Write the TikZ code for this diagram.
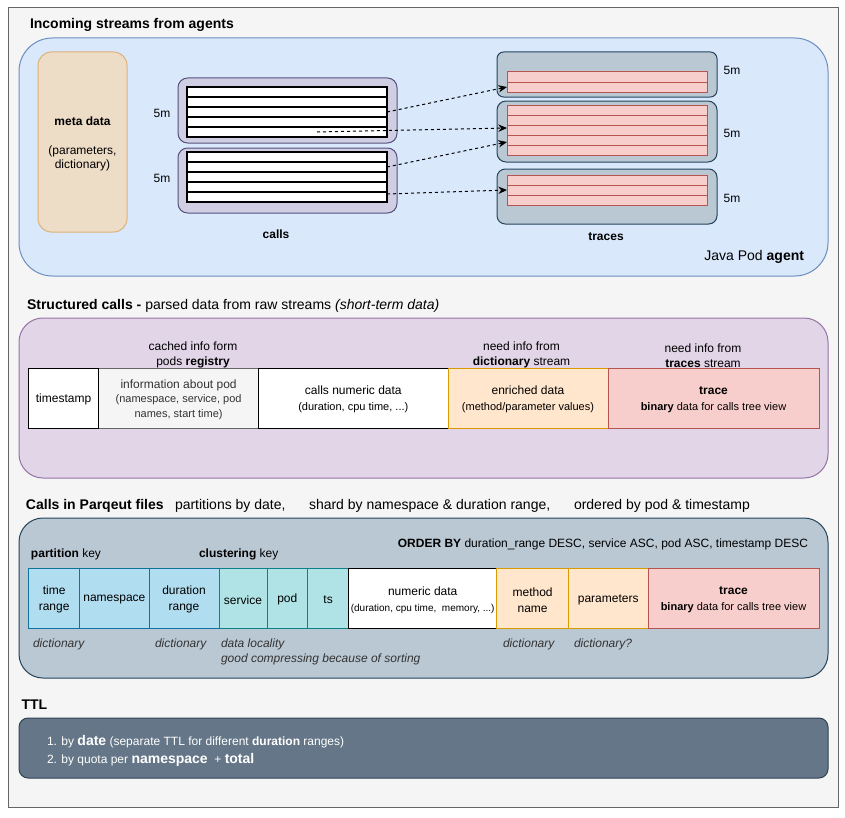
\documentclass[tikz,border=0pt]{standalone}
\usepackage{fontspec}
\setmainfont{Liberation Sans}
\usetikzlibrary{arrows.meta}
\newcommand\fz[1]{\fontsize{\fpeval{#1*0.75}pt}{\fpeval{#1*0.9}pt}\selectfont}
\newcommand\rbox[7]{\node[#2, anchor=north west, minimum width={(#5-(#3))*0.75pt}, minimum height={(#6-(#4))*0.75pt}] (#1) at (#3,#4) {#7};}
% cell: name, box style, text style, x1,y1,x2,y2, text
\newcommand\cbox[8]{\rbox{#1}{#2}{#4}{#5}{#6}{#7}{}\node[align=center, yshift=-1.3pt, #3] (#1t) at (#1.center) {#8};}
\definecolor{outerF}{HTML}{F5F5F5}
\definecolor{outerS}{HTML}{666666}
\definecolor{blueF}{HTML}{DAE8FC}
\definecolor{blueS}{HTML}{6C8EBF}
\definecolor{metaF}{HTML}{EDDCC6}
\definecolor{metaS}{HTML}{DDB27A}
\definecolor{purF}{HTML}{D0CEE2}
\definecolor{purS}{HTML}{56517E}
\definecolor{grF}{HTML}{BAC8D3}
\definecolor{grS}{HTML}{23445D}
\definecolor{pinkF}{HTML}{F8CECC}
\definecolor{pinkS}{HTML}{B85450}
\definecolor{lilF}{HTML}{E1D5E7}
\definecolor{lilS}{HTML}{9673A6}
\definecolor{orF}{HTML}{FFE6CC}
\definecolor{orS}{HTML}{D79B00}
\definecolor{txtG}{HTML}{333333}
\definecolor{skyF}{HTML}{B1DDF0}
\definecolor{skyS}{HTML}{10739E}
\definecolor{tealF}{HTML}{B0E3E6}
\definecolor{tealS}{HTML}{0E8088}
\definecolor{ttlF}{HTML}{647687}
\definecolor{ttlS}{HTML}{314354}
\begin{document}
\begin{tikzpicture}[x=0.75pt,y=-0.75pt,
  every node/.style={inner sep=0pt, outer sep=0pt},
  shp/.style={line width=0.75pt},
  tdown/.style={yshift=-1.3pt},
  lbl/.style={font=\fz{12}, tdown},
  hdr/.style={font=\fz{14}, anchor=west, tdown},
  ct/.style={font={\fontsize{9pt}{12pt}\selectfont}},
  cts/.style={font={\fontsize{8.25pt}{12pt}\selectfont}},
  crow/.style={line width=0.9pt, draw=black, fill=white, minimum width=150pt, minimum height=7.5pt, anchor=north west},
  trow/.style={line width=0.75pt, draw=pinkS, fill=pinkF, minimum width=150pt, minimum height=7.5pt, anchor=north west},
  flow/.style={line width=0.75pt, dash pattern=on 2.25pt off 2.25pt, -{Stealth[length=6.5pt,width=5.5pt]}},
  ann/.style={font=\fz{12}\itshape, anchor=west, text=txtG, tdown}
]
\useasboundingbox (0,0) rectangle (845,817);
\fill[white] (0,0) rectangle (845,817);

% outer frame
\rbox{outer}{shp, draw=outerS, fill=outerF}{8}{8}{838}{807}{}

% ---------- section 1 ----------
\node[hdr] (t1) at (30,23) {\textbf{Incoming streams from agents}};
\rbox{agentbox}{shp, draw=blueS, fill=blueF, rounded corners=25pt}{19}{38}{828}{276}{}
\cbox{meta}{shp, draw=metaS, fill=metaF, rounded corners=10pt}{font={\fontsize{9pt}{10.8pt}\selectfont}}{38}{52}{127}{232}{\textbf{meta data}\\[10.8pt](parameters,\\dictionary)}

\rbox{cgu}{shp, draw=purS, fill=purF, rounded corners=7.2pt}{178}{78}{397}{143}{}
\rbox{cgl}{shp, draw=purS, fill=purF, rounded corners=7.2pt}{178}{148}{397}{213}{}
\foreach \i in {1,...,5} {
  \node[crow] (cu\i) at (187,{87+10*(\i-1)}) {};
  \node[crow] (cl\i) at (187,{152+10*(\i-1)}) {};
}

\rbox{tb1}{shp, draw=grS, fill=grF, rounded corners=5pt}{497}{52}{717}{97}{}
\rbox{tb2}{shp, draw=grS, fill=grF, rounded corners=6.8pt}{497}{101}{717}{162}{}
\rbox{tb3}{shp, draw=grS, fill=grF, rounded corners=6.2pt}{497}{169}{717}{224}{}
\foreach \i in {1,2} { \node[trow] (ta\i) at (507,{72+10*(\i-1)}) {}; }
\foreach \i in {1,...,5} { \node[trow] (tm\i) at (507,{105+10*(\i-1)}) {}; }
\foreach \i in {1,...,3} { \node[trow] (tc\i) at (507,{175+10*(\i-1)}) {}; }

\coordinate (a2s) at (317,132);
\draw[flow] (cu3.east) -- (ta2.west);
\draw[flow] (a2s) -- ([yshift=1.5pt]tm3.west);
\draw[flow] (cl2.east) -- ([yshift=-1.5pt]tm4.west);
\draw[flow] ([yshift=2.25pt]cl5.east) -- (tc2.west);

\node[lbl] (m1) at (162,112) {5m};
\node[lbl] (m2) at (162,177) {5m};
\node[lbl] (m3) at (732,69) {5m};
\node[lbl] (m4) at (732,132) {5m};
\node[lbl] (m5) at (732,197) {5m};
\node[lbl] (callsl) at (276,232) {\textbf{calls}};
\node[lbl] (tracesl) at (606,235) {\textbf{traces}};
\node[font=\fz{14}, anchor=east, tdown] (jpa) at (804,255) {Java Pod \textbf{agent}};

% ---------- section 2 ----------
\node[hdr] (t2) at (27,304) {\textbf{Structured calls -} parsed data from raw streams \textit{(short-term data)}};
\rbox{structbox}{shp, draw=lilS, fill=lilF, rounded corners=18pt}{19}{318}{828}{478}{}
\cbox{sinfo}{shp, draw=outerS, fill=outerF}{text=txtG, font={\fontsize{8.25pt}{10.9pt}\selectfont}}{98.6}{368}{258.6}{428}{{\fz{12}information about pod}\\(namespace, service, pod\\names, start time)}
\cbox{sts}{shp, draw=black, fill=white}{ct}{28.5}{368}{98.6}{428}{timestamp}
\cbox{snum}{shp, draw=black, fill=white}{cts}{258.6}{368}{448}{428}{{\fz{12}calls numeric data}\\(duration, cpu time, ...)}
\cbox{senr}{shp, draw=orS, fill=orF}{cts}{448}{368}{608}{428}{{\fz{12}enriched data}\\(method/parameter values)}
\cbox{strc}{shp, draw=pinkS, fill=pinkF}{cts}{608}{368}{819}{428}{{\fz{12}\textbf{trace}}\\\textbf{binary} data for calls tree view}

\node[align=center, font={\fontsize{9pt}{11.25pt}\selectfont}, tdown] (h1) at (193,353.5) {cached info form\\pods \textbf{registry}};
\node[align=center, font={\fontsize{9pt}{11.25pt}\selectfont}, tdown] (h2) at (521.5,353.5) {need info from\\\textbf{dictionary} stream};
\node[align=center, font={\fontsize{9pt}{11.25pt}\selectfont}, tdown] (h3) at (703,353.5) {need info from\\\textbf{traces} stream};

% ---------- section 3 ----------
\node[hdr] (t3a) at (26,504) {\textbf{Calls in Parqeut files}};
\node[hdr] (t3b) at (175,504) {partitions by date,};
\node[hdr] (t3c) at (309,504) {shard by namespace \& duration range,};
\node[hdr] (t3d) at (574,504) {ordered by pod \& timestamp};
\rbox{parqbox}{shp, draw=grS, fill=grF, rounded corners=18pt}{19}{518}{828}{678}{}
\node[lbl, anchor=east] (ob) at (808,543) {\textbf{ORDER BY} duration\_range DESC, service ASC, pod ASC, timestamp DESC};
\node[lbl, anchor=west] (pk) at (31,553) {\textbf{partition} key};
\node[lbl, anchor=west] (ck) at (199,553) {\textbf{clustering} key};

\cbox{ptr}{shp, draw=skyS, fill=skyF}{ct}{28.5}{568}{79.7}{628}{time\\range}
\cbox{pns}{shp, draw=skyS, fill=skyF}{ct}{79.7}{568}{149}{628}{namespace}
\cbox{pdr}{shp, draw=skyS, fill=skyF}{ct}{149}{568}{219}{628}{duration\\range}
\cbox{psv}{shp, draw=tealS, fill=tealF}{ct}{219}{568}{267}{628}{service}
\cbox{ppd}{shp, draw=tealS, fill=tealF}{ct}{267}{568}{307.6}{628}{pod}
\cbox{pts}{shp, draw=tealS, fill=tealF}{ct}{307.6}{568}{348.6}{628}{ts}
\cbox{pnum}{shp, draw=black, fill=white}{ct}{348.6}{568}{496.8}{628}{numeric data\\{\fz{10}(duration, cpu time,\ \ memory, ...)}}
\cbox{pmn}{shp, draw=orS, fill=orF}{ct}{496.8}{568}{568.4}{628}{method\\name}
\cbox{ppar}{shp, draw=orS, fill=orF}{ct}{568.4}{568}{648}{628}{parameters}
\cbox{ptrc}{shp, draw=pinkS, fill=pinkF}{ct}{648}{568}{819}{628}{\textbf{trace}\\{\fz{11}\textbf{binary} data for calls tree view}}

\node[ann] (d1) at (33,643) {dictionary};
\node[ann] (d2) at (155,643) {dictionary};
\node[ann] (d3) at (221,643) {data locality};
\node[ann] (d4) at (221,658) {good compressing because of sorting};
\node[ann] (d5) at (503,643) {dictionary};
\node[ann] (d6) at (574,643) {dictionary?};

% ---------- section 4 ----------
\node[hdr] (t4) at (21.5,703) {\textbf{TTL}};
\rbox{ttlbox}{shp, draw=ttlS, fill=ttlF, rounded corners=6.8pt}{19}{718}{828}{778}{}
\node[anchor=west, text=white, font=\fz{12}, tdown] (l1) at (47,740) {1. by {\fz{14}\textbf{date}} (separate TTL for different \textbf{duration} ranges)};
\node[anchor=west, text=white, font=\fz{12}, tdown] (l2) at (47,758) {2. by quota per {\fz{14}\textbf{namespace}}\ \ + {\fz{14}\textbf{total}}};
\end{tikzpicture}
\end{document}
